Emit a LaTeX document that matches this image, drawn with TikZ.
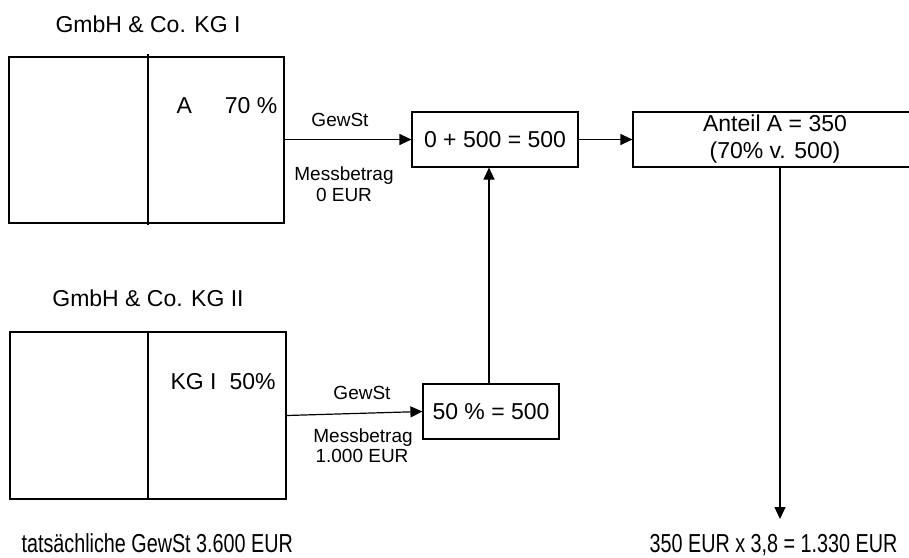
\documentclass[tikz,border=0pt]{standalone}
\usepackage{fontspec}
\setmainfont{Liberation Sans}
\newfontfamily\narrowsans[FakeStretch=0.76]{Liberation Sans}
\usetikzlibrary{arrows.meta}
\begin{document}
\begin{tikzpicture}[x=1pt,y=-1pt,
  line width=1.2pt,
  big/.style={font=\fontsize{23}{27}\selectfont},
  small/.style={font=\fontsize{19}{21}\selectfont},
  result/.style={font=\narrowsans\fontsize{26}{30}\selectfont},
  box/.style={draw, rectangle, inner sep=0pt, line width=1.2pt},
  arr/.style={-{Triangle[length=12pt,width=11pt]}, line width=1.2pt},
  divider/.style={line width=1.2pt},
]
\useasboundingbox (0,0) rectangle (909,557);
\clip (0,0) rectangle (909,557);

% first partnership
\node[big, anchor=base] (t1) at (148,32) {GmbH \& Co. KG I};
\node[box, minimum width=275pt, minimum height=166pt] (kg1) at (146.5,140) {};
\draw[divider, line width=2.5pt] ([xshift=1.5pt,yshift=2pt]kg1.north) -- ([xshift=1.5pt,yshift=-1pt]kg1.south);
\node[big, anchor=base west, inner sep=0pt] (a70) at (176,113) {A\hspace{33pt}70 \%};

% second partnership
\node[big, anchor=base] (t2) at (148,306) {GmbH \& Co. KG II};
\node[box, minimum width=276pt, minimum height=167pt] (kg2) at (148,415.5) {};
\draw[divider] (kg2.north) -- (kg2.south);
\node[big, anchor=base west, inner sep=0pt] (kg50) at (170,389) {KG I\hspace{13pt}50\%};

% computation boxes
\node[box, big, minimum width=166pt, minimum height=55pt] (sum) at (495,139.5) {0 + 500 = 500};
\node[box, big, minimum width=136pt, minimum height=55pt] (fifty) at (491,411.5) {50 \% = 500};
\node[box, big, minimum width=284pt, minimum height=55pt, align=center] (anteil) at (775,139.5)
  {Anteil A = 350\\(70\% v. 500)};

% labels along the upper connector
\node[small, anchor=base] (g1) at (340,126) {GewSt};
\node[small, anchor=base] (m1) at (344,180) {Messbetrag};
\node[small, anchor=base] (e1) at (344,201) {0 EUR};

% labels along the lower connector
\node[small, anchor=base] (g2) at (362,399) {GewSt};
\node[small, anchor=base] (m2) at (363,442) {Messbetrag};
\node[small, anchor=base] (e2) at (362,462) {1.000 EUR};

% bottom results
\node[result, anchor=base west, inner sep=0pt] (tat) at (21,552) {tatsächliche GewSt 3.600 EUR};
\node[result, anchor=base east, inner sep=0pt] (res) at (898,552) {350 EUR x 3,8 = 1.330 EUR};
\coordinate (resin) at (780,519);

% connectors
\draw[arr] (sum.west -| kg1.east) -- (sum.west);
\draw[arr] (sum.east) -- (anteil.west);
\draw[arr] (kg2.east) -- (fifty.west);
\draw[arr] ([xshift=-2pt]fifty.north) -- ([xshift=-2pt]fifty.north |- sum.south);
\draw[arr] (resin |- anteil.south) -- (resin);
\end{tikzpicture}
\end{document}
